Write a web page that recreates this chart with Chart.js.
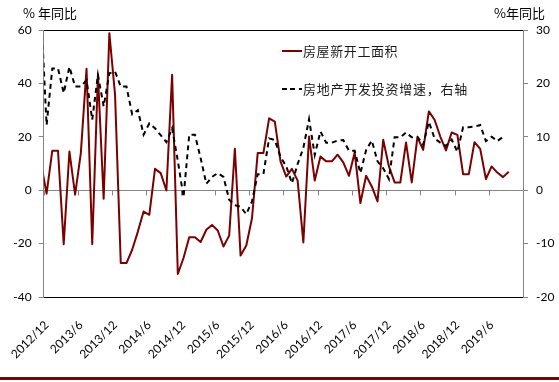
<!DOCTYPE html>
<html>
<head>
<meta charset="utf-8">
<script src="https://cdn.jsdelivr.net/npm/chart.js@4.4.1/dist/chart.umd.min.js"></script>
<style>
html,body{margin:0;padding:0;background:#fff;}
#wrap{position:relative;width:559px;height:382px;overflow:hidden;background:#fff;}
#c{position:absolute;left:0;top:0;}
.t{position:absolute;font-family:"Noto Sans CJK SC","Noto Sans",sans-serif;font-size:13px;line-height:13px;color:#000;white-space:nowrap;}
.lg{position:absolute;font-family:"Noto Sans CJK SC",sans-serif;font-size:13px;line-height:13px;color:#1a1a1a;white-space:nowrap;}
#stripe{position:absolute;left:0;top:377px;width:559px;height:3px;background:#6e0707;}
</style>
</head>
<body>
<div id="wrap">
  <canvas id="c" width="559" height="382"></canvas>
  <div class="t" style="left:23px;top:6px;">% 年同比</div>
  <div class="t" style="left:494px;top:6px;">%年同比</div>
  <div style="position:absolute;left:282px;top:50px;width:20px;height:2px;background:#7b0000;"></div>
  <div class="lg" style="left:303px;top:44px;letter-spacing:0.6px;">房屋新开工面积</div>
  <div style="position:absolute;left:282px;top:88px;width:20px;height:2px;background:repeating-linear-gradient(90deg,#000 0 5px,transparent 5px 8.5px);"></div>
  <div class="lg" style="left:303px;top:82px;letter-spacing:0.75px;">房地产开发投资增速，右轴</div>
  <div id="stripe"></div>
</div>
<script>
// ---- data ----
const firstMonth = [2012, 11];            // first data month
const monthCount = 85;                    // 2012/11 .. 2019/11
const axisFirst = '2012/12';
const axisLast = '2019/11';
const tickLabels = ['2012/12','2013/6','2013/12','2014/6','2014/12','2015/6','2015/12',
                    '2016/6','2016/12','2017/6','2017/12','2018/6','2018/12','2019/6'];
const leftTicks = [-40, -20, 0, 20, 40, 60];
const rightTicks = [-20, -10, 0, 10, 20, 30];

// 房屋新开工面积 (left axis, % yoy)
const newStarts = [10.3, -1.3, 14.8, 14.8, -20.2, 14.5, -1.7, 13.9, 45.5, -20.2,
  43.2, -3.2, 58.8, 35.7, -27.3, -27.3, -22.3, -15.5, -8.0, -9.2,
  8.0, 6.4, -0.1, 43.2, -31.4, -25.4, -17.6, -17.6, -19.4, -14.8,
  -13.0, -15.1, -21.1, -17.0, 15.5, -24.5, -20.7, -10.5, 13.9, 13.9,
  26.9, 25.7, 10.8, 5.1, 8.0, 3.6, -19.6, 20.1, 3.6, 12.6,
  10.8, 10.8, 13.3, 10.4, 5.4, 14.1, -4.8, 5.4, 1.4, -4.2,
  18.9, 8.9, 2.9, 2.9, 17.9, 2.9, 19.9, 15.1, 29.5, 26.4,
  20.1, 14.9, 21.6, 20.7, 6.0, 6.0, 18.0, 15.5, 4.2, 8.9,
  6.6, 4.9, 6.9];

// 房地产开发投资增速 (right axis, % yoy)
const investment = [34.0, 12.2, 22.8, 22.8, 18.2, 23.1, 19.4, 19.4, 20.6, 13.2,
  21.6, 15.7, 21.9, 22.2, 19.4, 19.4, 14.2, 15.0, 10.4, 12.5,
  11.6, 10.3, 9.0, 11.6, 5.5, -1.3, 10.4, 10.4, 6.0, 1.2,
  2.5, 3.2, 2.5, -1.8, -2.8, -3.1, -4.5, -2.1, 3.0, 3.0,
  9.7, 9.4, 6.2, 4.5, 1.3, 4.9, 7.9, 13.3, 6.6, 11.0,
  8.9, 8.9, 9.3, 9.4, 7.4, 7.4, 3.2, 7.5, 9.3, 5.4,
  4.1, 2.1, 9.9, 9.9, 10.8, 9.9, 10.0, 8.5, 12.8, 9.7,
  8.9, 8.3, 9.5, 7.2, 11.8, 11.8, 11.9, 12.2, 9.2, 10.0,
  9.2, 10.0];

// ---- month categories ----
const months = [];
for (let k = 0; k < monthCount; k++) {
  const m0 = firstMonth[1] - 1 + k;
  months.push((firstMonth[0] + Math.floor(m0 / 12)) + '/' + (m0 % 12 + 1));
}
const idx = m => months.indexOf(m);
const xMin = idx(axisFirst) - 0.5;
const xMax = idx(axisLast) + 0.5;
const labelPos = tickLabels.map(idx);

const AXIS_GRAY = '#868686';
const RED = '#7b0000';

const zeroTicks = {
  id: 'zeroTicks',
  beforeDatasetsDraw(chart) {
    const x = chart.scales.x, y = chart.scales.y, ctx = chart.ctx;
    const y0 = Math.round(y.getPixelForValue(0)) + 0.5;
    ctx.save();
    ctx.strokeStyle = AXIS_GRAY; ctx.lineWidth = 1;
    ctx.beginPath();
    labelPos.forEach(p => {
      const px = Math.round(x.getPixelForValue(p - 0.5)) + 0.5;
      ctx.moveTo(px, y0); ctx.lineTo(px, y0 + 5);
    });
    const pr = Math.round(x.getPixelForValue(xMax)) + 0.5;
    ctx.moveTo(pr, y0); ctx.lineTo(pr, y0 + 5);
    ctx.stroke();
    ctx.restore();
  }
};

const numFont = {family: 'Lato, "Liberation Sans", sans-serif', size: 12};

new Chart(document.getElementById('c'), {
  type: 'line',
  data: {
    datasets: [
      {
        label: '房屋新开工面积',
        data: newStarts.map((v, i) => ({x: i, y: v})),
        yAxisID: 'y',
        borderColor: RED, borderWidth: 2, pointRadius: 0, tension: 0,
        borderJoinStyle: 'round', clip: 0, order: 1
      },
      {
        label: '房地产开发投资增速，右轴',
        data: investment.map((v, i) => ({x: i, y: v})),
        yAxisID: 'y1',
        borderColor: '#000', borderWidth: 2, borderDash: [5, 4], pointRadius: 0, tension: 0,
        clip: 0, order: 0
      }
    ]
  },
  options: {
    responsive: false, animation: false, devicePixelRatio: 1,
    layout: {padding: {top: 30, left: 0, right: 0, bottom: 0}},
    plugins: {legend: {display: false}, tooltip: {enabled: false}},
    scales: {
      x: {
        type: 'linear', position: 'bottom', min: xMin, max: xMax,
        afterBuildTicks: s => { s.ticks = labelPos.map(v => ({value: v})); },
        afterFit: s => { s.height = 85; },
        grid: {display: false},
        border: {display: true, color: '#000', width: 1},
        ticks: {
          autoSkip: false, maxRotation: 45, minRotation: 45, padding: 13,
          color: '#000', font: numFont,
          callback: (v, i) => tickLabels[i]
        }
      },
      y: {
        type: 'linear', position: 'left', min: leftTicks[0], max: leftTicks[leftTicks.length - 1],
        afterBuildTicks: s => { s.ticks = leftTicks.map(v => ({value: v})); },
        afterFit: s => { s.width = 38; },
        grid: {
          display: true, drawOnChartArea: true, tickLength: 5, tickColor: AXIS_GRAY,
          color: c => c.tick && c.tick.value === 0 ? AXIS_GRAY
                 : (c.tick && (c.tick.value === 60 || c.tick.value === -40) ? '#000' : 'rgba(0,0,0,0)')
        },
        border: {display: true, color: AXIS_GRAY, width: 1},
        ticks: {padding: 7, color: '#000', font: numFont}
      },
      y1: {
        type: 'linear', position: 'right', min: rightTicks[0], max: rightTicks[rightTicks.length - 1],
        afterBuildTicks: s => { s.ticks = rightTicks.map(v => ({value: v})); },
        afterFit: s => { s.width = 36; },
        grid: {display: true, drawOnChartArea: false, tickLength: 5, tickColor: AXIS_GRAY},
        border: {display: true, color: AXIS_GRAY, width: 1},
        ticks: {padding: 8, color: '#000', font: numFont}
      }
    }
  },
  plugins: [zeroTicks]
});
</script>
</body>
</html>
